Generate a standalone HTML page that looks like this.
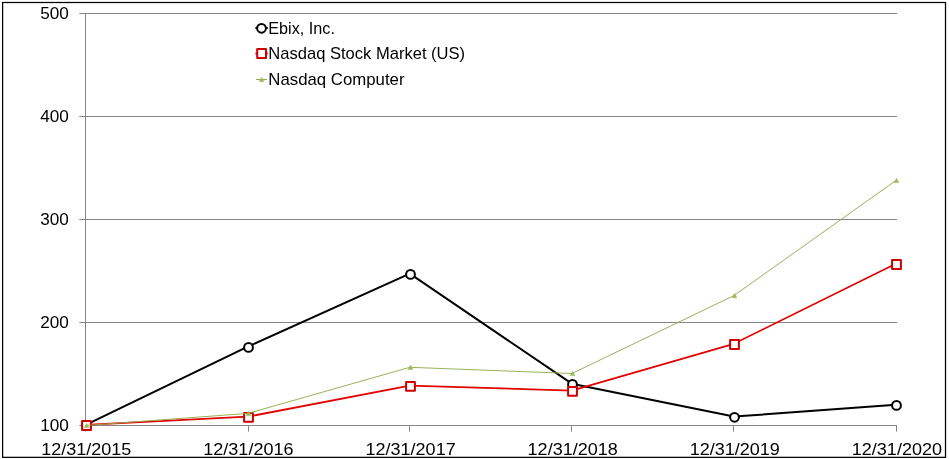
<!DOCTYPE html>
<html lang="en">
<head>
<meta charset="utf-8">
<title>Ebix, Inc. – Comparison of Cumulative Total Return</title>
<style>
html,body{margin:0;padding:0;background:#fff;}
body{width:949px;height:459px;overflow:hidden;}
svg{display:block;}
text{font-family:"Liberation Sans",sans-serif;font-size:16.6px;fill:#000;}
</style>
</head>
<body>
<svg width="949" height="459" viewBox="0 0 949 459">
<rect x="0" y="0" width="949" height="459" fill="#fff"/>
<g stroke="#868686" stroke-width="1" fill="none">
<line x1="79.3" y1="13.5" x2="897" y2="13.5"/>
<line x1="79.3" y1="116.5" x2="897" y2="116.5"/>
<line x1="79.3" y1="219.5" x2="897" y2="219.5"/>
<line x1="79.3" y1="322.5" x2="897" y2="322.5"/>
<line x1="79.3" y1="425.5" x2="897" y2="425.5"/>
<line x1="85.5" y1="13" x2="85.5" y2="431.5"/>
<line x1="248.5" y1="425.5" x2="248.5" y2="431.6"/>
<line x1="409.5" y1="425.5" x2="409.5" y2="431.6"/>
<line x1="571.5" y1="425.5" x2="571.5" y2="431.6"/>
<line x1="733.5" y1="425.5" x2="733.5" y2="431.6"/>
<line x1="896.5" y1="425.5" x2="896.5" y2="431.6"/>
</g>
<g text-anchor="end">
<text x="68.8" y="19.4" textLength="28.6" lengthAdjust="spacingAndGlyphs">500</text>
<text x="68.8" y="122.4" textLength="28.6" lengthAdjust="spacingAndGlyphs">400</text>
<text x="68.8" y="225.4" textLength="28.6" lengthAdjust="spacingAndGlyphs">300</text>
<text x="68.8" y="328.4" textLength="28.6" lengthAdjust="spacingAndGlyphs">200</text>
<text x="68.8" y="431.4" textLength="28.6" lengthAdjust="spacingAndGlyphs">100</text>
</g>
<g text-anchor="middle">
<text x="86.3" y="454.9" textLength="90.2" lengthAdjust="spacingAndGlyphs">12/31/2015</text>
<text x="248.4" y="454.9" textLength="90.2" lengthAdjust="spacingAndGlyphs">12/31/2016</text>
<text x="410.6" y="454.9" textLength="90.2" lengthAdjust="spacingAndGlyphs">12/31/2017</text>
<text x="572.7" y="454.9" textLength="90.2" lengthAdjust="spacingAndGlyphs">12/31/2018</text>
<text x="734.8" y="454.9" textLength="90.2" lengthAdjust="spacingAndGlyphs">12/31/2019</text>
<text x="896.9" y="454.9" textLength="90.2" lengthAdjust="spacingAndGlyphs">12/31/2020</text>
</g>
<g stroke="#000" stroke-width="2" stroke-linejoin="round" stroke-linecap="round">
<polyline fill="none" points="85.8,424.8 247.8,346.7 409.8,273.7 571.8,383.7 733.8,416.6 895.8,404.7"/>
<circle cx="86.5" cy="425.5" r="4.4" fill="#fff" stroke-width="2"/>
<circle cx="248.5" cy="347.4" r="4.4" fill="#fff" stroke-width="2"/>
<circle cx="410.5" cy="274.4" r="4.4" fill="#fff" stroke-width="2"/>
<circle cx="572.5" cy="384.4" r="4.4" fill="#fff" stroke-width="2"/>
<circle cx="734.5" cy="417.3" r="4.4" fill="#fff" stroke-width="2"/>
<circle cx="896.5" cy="405.4" r="4.4" fill="#fff" stroke-width="2"/>
</g>
<g stroke-linejoin="round" stroke-linecap="round">
<polyline fill="none" stroke="#e20000" stroke-width="1.75" points="85.8,424.8 247.8,416.7 409.8,385.7 571.8,390.6 733.8,343.8 895.8,263.8"/>
<rect x="82.1" y="421.1" width="8.8" height="8.8" fill="#fff" stroke="#cc0000" stroke-width="2"/>
<rect x="244.1" y="413.0" width="8.8" height="8.8" fill="#fff" stroke="#cc0000" stroke-width="2"/>
<rect x="406.1" y="382.0" width="8.8" height="8.8" fill="#fff" stroke="#cc0000" stroke-width="2"/>
<rect x="568.1" y="386.9" width="8.8" height="8.8" fill="#fff" stroke="#cc0000" stroke-width="2"/>
<rect x="730.1" y="340.1" width="8.8" height="8.8" fill="#fff" stroke="#cc0000" stroke-width="2"/>
<rect x="892.1" y="260.1" width="8.8" height="8.8" fill="#fff" stroke="#cc0000" stroke-width="2"/>
</g>
<g>
<polyline fill="none" stroke="#93ad52" stroke-width="0.95" points="85.9,425.5 247.9,413.4 409.9,367.3 571.9,373.5 733.9,295.6 895.9,180.5"/>
<path d="M86.5 423.4L88.8 427.6L84.2 427.6Z" fill="#9bbb59" stroke="#9bbb59" stroke-width="0.6" stroke-linejoin="round"/>
<path d="M248.5 411.3L250.8 415.5L246.2 415.5Z" fill="#9bbb59" stroke="#9bbb59" stroke-width="0.6" stroke-linejoin="round"/>
<path d="M410.5 365.2L412.8 369.4L408.2 369.4Z" fill="#9bbb59" stroke="#9bbb59" stroke-width="0.6" stroke-linejoin="round"/>
<path d="M572.5 371.4L574.8 375.6L570.2 375.6Z" fill="#9bbb59" stroke="#9bbb59" stroke-width="0.6" stroke-linejoin="round"/>
<path d="M734.5 293.5L736.8 297.7L732.2 297.7Z" fill="#9bbb59" stroke="#9bbb59" stroke-width="0.6" stroke-linejoin="round"/>
<path d="M896.5 178.4L898.8 182.6L894.2 182.6Z" fill="#9bbb59" stroke="#9bbb59" stroke-width="0.6" stroke-linejoin="round"/>
</g>
<g>
<line x1="255.4" y1="28" x2="267.8" y2="28" stroke="#000" stroke-width="2"/>
<circle cx="261.5" cy="28.3" r="4.4" fill="#fff" stroke="#000" stroke-width="2"/>
<line x1="255.4" y1="53.5" x2="267.8" y2="53.5" stroke="#f00000" stroke-width="2"/>
<rect x="257.2" y="49.1" width="8.8" height="8.8" fill="#fff" stroke="#cc0000" stroke-width="2" stroke-linejoin="round"/>
<line x1="256" y1="79.5" x2="267" y2="79.5" stroke="#93ad52" stroke-width="1"/>
<path d="M261.6 77.4L263.9 81.6L259.3 81.6Z" fill="#9bbb59" stroke="#9bbb59" stroke-width="0.6" stroke-linejoin="round"/>
<text x="268.3" y="33.8" textLength="66.6" lengthAdjust="spacingAndGlyphs">Ebix, Inc.</text>
<text x="268.3" y="59.2" textLength="196.8" lengthAdjust="spacingAndGlyphs">Nasdaq Stock Market (US)</text>
<text x="268.3" y="85.1" textLength="136.2" lengthAdjust="spacingAndGlyphs">Nasdaq Computer</text>
</g>
<rect x="2.6" y="2.5" width="942.9" height="454.85" fill="none" stroke="#000" stroke-width="1.25"/>
</svg>
</body>
</html>
